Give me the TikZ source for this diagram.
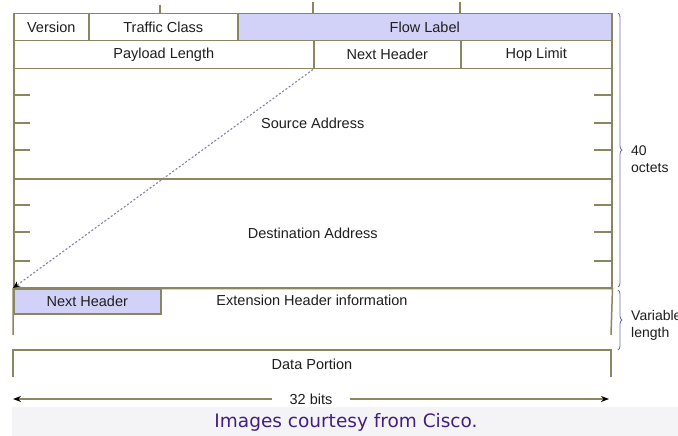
\documentclass[tikz,border=0pt]{standalone}
\usepackage{fontspec}
\setmainfont{Liberation Sans}
\newfontfamily\capfont{DejaVu Sans}
\usetikzlibrary{decorations.pathreplacing,arrows.meta}
\definecolor{frameline}{HTML}{8A8760}
\definecolor{lav}{HTML}{D2D2F8}
\definecolor{dashc}{HTML}{8282AC}
\definecolor{bracec}{HTML}{7474A4}
\definecolor{txt}{HTML}{1E1E1E}
\definecolor{capbg}{HTML}{F4F4F6}
\definecolor{capfg}{HTML}{43207F}
\tikzset{
  cell/.style={draw=frameline, line width=1.5pt, anchor=north west, inner sep=0pt,
    font=\fontsize{14.5}{16}\selectfont, text=txt},
  fieldtext/.style={font=\fontsize{14.5}{16}\selectfont, text=txt, inner sep=1pt},
  rule/.style={draw=frameline, line width=1.5pt},
  tick/.style={draw=frameline, line width=1.2pt},
  ptr/.style={draw=dashc, line width=1.1pt, dash pattern=on 2pt off 2pt,
    -{Stealth[length=7pt,width=6pt,color=black]}},
  bracket/.style={draw=bracec, line width=0.9pt, decorate,
    decoration={brace, amplitude=4pt}},
  sidelabel/.style={font=\fontsize{14}{17}\selectfont, text=txt, anchor=west,
    align=left, inner sep=0pt},
}
\begin{document}
\begin{tikzpicture}[x=1pt, y=-1pt]
\useasboundingbox (0,0) rectangle (678,436);
\fill[white] (0,0) rectangle (678,436);

% first header row
\node[cell, minimum width=75pt, minimum height=27pt] (ver) at (13,13) {Version};
\node[cell, minimum width=149pt, minimum height=27pt] (tc) at (88,13) {Traffic Class};
\node[cell, fill=lav, minimum width=374pt, minimum height=27pt] (fl) at (237,13) {Flow Label};

% second header row
\node[cell, minimum width=300pt, minimum height=28pt] (pl) at (13,40) {Payload Length};
\node[cell, minimum width=147pt, minimum height=28pt] (nh) at (313,40) {Next Header};
\node[cell, minimum width=151pt, minimum height=28pt] (hl) at (460,40) {Hop Limit};

% addresses
\node[cell, minimum width=598pt, minimum height=110pt] (src) at (13,68) {Source Address};
\node[cell, minimum width=598pt, minimum height=109pt] (dst) at (13,178) {Destination Address};

% bit ticks above the header
\draw[tick] (160,5) -- (160,13);
\draw[tick] (313,2) -- (313,13);
\draw[tick] (460,2) -- (460,13);

% 16-bit ticks inside the address fields
\foreach \yy in {95,123,150,205,232,261} {
  \draw[tick] (13,\yy) -- (30,\yy);
  \draw[tick] (594,\yy) -- (611,\yy);
}

% extension header (open at the bottom)
\coordinate (extbl) at (13,335);
\coordinate (extbr) at (611,335);
\draw[rule] (extbl) -- (dst.south west) -- (dst.south east) -- (extbr);
\node[cell, fill=lav, minimum width=147pt, minimum height=25pt] (nh2) at (13,288) {Next Header};
\node[fieldtext] (ehi) at (312,300) {Extension Header information};

% data portion (open at the bottom)
\coordinate (dptl) at (13,350);
\coordinate (dptr) at (611,350);
\coordinate (dpbl) at (13,377);
\coordinate (dpbr) at (611,377);
\draw[rule] (dpbl) -- (dptl) -- (dptr) -- (dpbr);
\node[fieldtext] (dp) at (312,364) {Data Portion};

% next-header pointer
\draw[ptr] (nh.south west) -- (nh2.north west);

% braces on the right
\coordinate (b1t) at (618,13);
\coordinate (b1b) at (618,287);
\coordinate (b2t) at (618,290);
\coordinate (b2b) at (618,350);
\draw[bracket] (b1t) -- (b1b);
\draw[bracket] (b2t) -- (b2b);
\node[sidelabel] (oct) at (631,159) {40\\octets};
\node[sidelabel] (var) at (631,325) {Variable\\length};

% width arrow
\coordinate (wl) at (13,399);
\coordinate (wr) at (609,399);
\draw[draw=frameline, line width=1.5pt,
  {Stealth[length=8pt,width=6pt,color=black]}-{Stealth[length=8pt,width=6pt,color=black]}]
  (wl) -- (wr) node[midway, fill=white, fieldtext, inner xsep=18pt, inner ysep=1pt] (bits) {32 bits};

% caption band
\fill[capbg] (12,407) rectangle (678,436);
\node[font=\capfont\fontsize{18.5}{20}\selectfont, text=capfg, inner sep=0pt] (cap) at (346,422) {Images courtesy from Cisco.};
\end{tikzpicture}
\end{document}
